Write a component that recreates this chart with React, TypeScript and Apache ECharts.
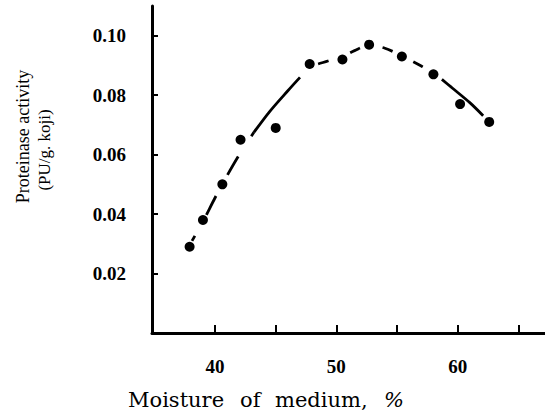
import React, { useEffect, useRef } from "react";
import * as echarts from "echarts";

// Measured points
const moisture = [37.9, 39.0, 40.6, 42.1, 45.0, 47.8, 50.5, 52.7, 55.4, 58.0, 60.2, 62.6];
const activity = [0.029, 0.038, 0.05, 0.065, 0.069, 0.0905, 0.092, 0.097, 0.093, 0.087, 0.077, 0.071];

// Fitted curve
const curveX = [38.1, 39.0, 40.0, 41.0, 42.0, 43.2, 44.5, 46.0, 47.0, 47.8, 49.3, 50.5, 51.5, 52.7, 54.0, 55.4, 57.0, 58.0, 58.7, 59.5, 61.0, 62.1, 62.6];
const curveY = [0.031, 0.0375, 0.0455, 0.053, 0.06, 0.0675, 0.0745, 0.0815, 0.086, 0.0893, 0.0915, 0.093, 0.095, 0.0968, 0.0958, 0.0932, 0.0898, 0.0872, 0.0853, 0.0826, 0.0775, 0.0731, 0.071];

// Ticks
const yTicks = [0.02, 0.04, 0.06, 0.08, 0.1];
const xTicks = [40, 45, 50, 55, 60, 65];
const xLabels = [40, 50, 60];

const FONT = "Liberation Serif";
const TFONT = "DejaVu Serif";

export default function App() {
  const ref = useRef<HTMLDivElement>(null);
  useEffect(() => {
    if (!ref.current) return;
    const chart = echarts.init(ref.current, undefined, { renderer: "svg" });
    const curve = curveX.map((x, i) => [x, curveY[i]]);
    const seg = (a: number, b: number) => curve.filter((p) => p[0] >= a && p[0] <= b);
    const segments = [
      { a: 38.1, b: 43.2, type: [21, 24] as any, off: 15 },
      { a: 43.2, b: 47.0, type: "solid" as any, off: 0 },
      { a: 47.0, b: 58.7, type: [11, 23] as any, off: 11 },
      { a: 58.7, b: 62.1, type: "solid" as any, off: 0 },
    ];
    const lineSeries = segments.map((s) => ({
      type: "line",
      data: seg(s.a, s.b),
      smooth: 0.3,
      showSymbol: false,
      silent: true,
      lineStyle: { color: "#000", width: 2.8, type: s.type, dashOffset: s.off, cap: "butt" },
      z: 2,
    }));
    const title = (text: string, x: number, italic = false) => ({
      type: "text",
      x,
      y: 400,
      style: {
        text,
        font: `${italic ? "italic " : ""}21px "${TFONT}"`,
        fill: "#000",
        align: "left",
        verticalAlign: "middle",
      },
    });
    chart.setOption({
      animation: false,
      grid: { left: 152, right: 0, top: 6, bottom: 86, containLabel: false },
      xAxis: {
        type: "value",
        min: 34.8,
        max: 67.2,
        axisLine: { show: true, lineStyle: { color: "#000", width: 3 } },
        axisTick: { show: true, inside: true, length: 8, customValues: xTicks, lineStyle: { color: "#000", width: 2 } },
        axisLabel: {
          customValues: xLabels,
          margin: 24,
          color: "#000",
          fontFamily: FONT,
          fontWeight: "bold",
          fontSize: 19,
        },
        splitLine: { show: false },
      },
      yAxis: {
        type: "value",
        min: 0,
        max: 0.11,
        axisLine: { show: true, lineStyle: { color: "#000", width: 3 } },
        axisTick: { show: true, inside: true, length: 6, customValues: yTicks, lineStyle: { color: "#000", width: 2 } },
        axisLabel: {
          customValues: yTicks,
          margin: 26,
          color: "#000",
          fontFamily: FONT,
          fontWeight: "bold",
          fontSize: 19,
          formatter: (v: number) => v.toFixed(2),
        },
        splitLine: { show: false },
      },
      series: [
        ...lineSeries,
        {
          type: "scatter",
          data: moisture.map((x, i) => [x, activity[i]]),
          symbol: "circle",
          symbolSize: 10,
          itemStyle: { color: "#000", opacity: 1 },
          z: 3,
        },
      ],
      graphic: [
        {
          type: "text",
          x: 23,
          y: 136.5,
          rotation: Math.PI / 2,
          style: { text: "Proteinase activity", font: `18px "${FONT}"`, fill: "#000", align: "center", verticalAlign: "middle" },
        },
        {
          type: "text",
          x: 44,
          y: 150,
          rotation: Math.PI / 2,
          style: { text: "(PU/g. koji)", font: `17px "${FONT}"`, fill: "#000", align: "center", verticalAlign: "middle" },
        },
        title("Moisture", 128),
        title("of", 240),
        title("medium,", 275),
        title("%", 384, true),
      ],
    });
    return () => chart.dispose();
  }, []);
  return <div ref={ref} style={{ position: "absolute", left: 0, top: 0, width: 545, height: 419 }} />;
}
